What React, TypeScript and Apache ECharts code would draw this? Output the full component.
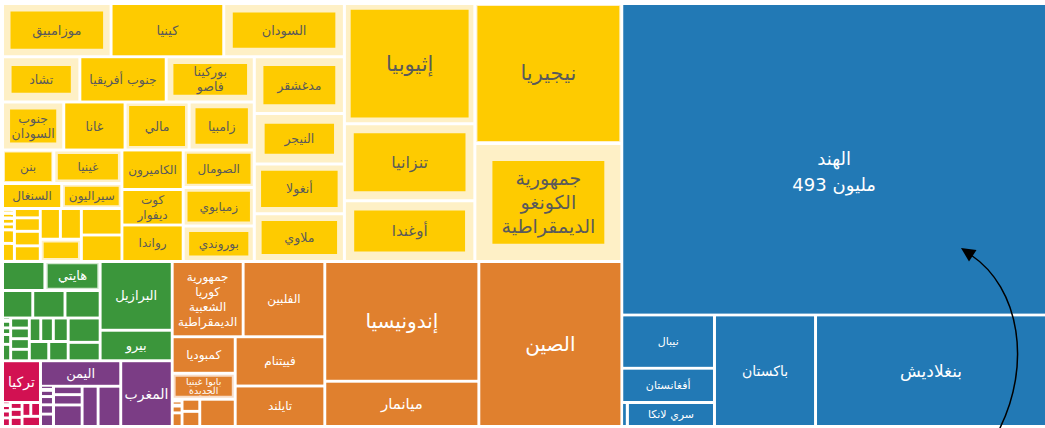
import React, { useEffect, useRef } from 'react';
import * as echarts from 'echarts';

// [name, value in millions, share drawn as the darker inner block]
type Item = [string, number, number?];

// ---------------- DATA ----------------
const unitLabel = 'مليون';

// South Asia
const saIndia: Item[] = [['الهند', 493]];
const saNepalAfghanistan: Item[] = [['نيبال', 18.4], ['أفغانستان', 11.8]];
const saSriLankaRow: Item[] = [['', 0.5], ['سري لانكا', 7.8]];
const saPakistanBangladesh: Item[] = [['باكستان', 42], ['بنغلاديش', 96]];

// Sub-Saharan Africa
const ssaTopRow: Item[] = [['موزامبيق', 21.6, 0.65], ['كينيا', 22.4, 1], ['السودان', 24, 0.61]];
const ssaRow1: Item[] = [['تشاد', 13, 0.51], ['جنوب أفريقيا', 14.5, 1], ['بوركينا\nفاصو', 14.8, 0.63]];
const ssaRow2: Item[] = [['جنوب\nالسودان', 11, 0.58], ['غانا', 11, 1], ['مالي', 11.5, 0.81], ['زامبيا', 11.7, 0.66]];
const ssaBeninGuinea: Item[] = [['بنن', 6.4, 0.9], ['غينيا', 8.5, 0.77]];
const ssaSenegalSierraLeone: Item[] = [['السنغال', 5.5, 1], ['سيراليون', 5.6, 0.79]];
const ssaSmallLeft: Item[] = [['', 2.3], ['', 3.4, 0.74], ['', 1.3], ['', 1.4], ['', 2.4], ['', 0.6], ['', 0.9], ['', 1.5], ['', 0.25], ['', 0.25], ['', 0.8], ['', 0.2], ['', 0.15], ['', 0.1]];
const ssaSmallRight: Item[] = [['', 4.0], ['', 4.0]];
const ssaCameroonCol: Item[] = [['الكاميرون', 9, 1], ['كوت\nديفوار', 8.1, 1], ['رواندا', 8.3, 1]];
const ssaSomaliaCol: Item[] = [['الصومال', 9.9, 0.81], ['زمبابوي', 10.2, 0.77], ['بوروندي', 9.4, 0.63]];
const ssaMadagascarCol: Item[] = [['مدغشقر', 19, 0.59], ['النيجر', 17, 0.5], ['أنغولا', 16.7, 0.68], ['ملاوي', 16, 0.64]];
const ssaEthiopiaCol: Item[] = [['إثيوبيا', 58.5, 0.85], ['تنزانيا', 37.4, 0.69], ['أوغندا', 29.5, 0.62]];
const ssaNigeriaCol: Item[] = [['نيجيريا', 76.7, 0.97], ['جمهورية\nالكونغو\nالديمقراطية', 64.6, 0.56]];

// East Asia & Pacific
const eapKoreaPhilippines: Item[] = [['جمهورية\nكوريا\nالشعبية\nالديمقراطية', 19.9], ['الفلبين', 22.9]];
const eapCambodiaPng: Item[] = [['كمبوديا', 8.6], ['بابوا غينيا\nالجديدة', 6.1, 0.78]];
const eapSmall: Item[] = [['', 3.6], ['', 1.0], ['', 0.8], ['', 0.5], ['', 0.25], ['', 0.15], ['', 0.1]];
const eapVietnamThailand: Item[] = [['فييتنام', 16.5], ['تايلند', 13.5]];
const eapIndonesiaMyanmar: Item[] = [['إندونيسيا', 68.8], ['ميانمار', 26]];
const eapChina: Item[] = [['الصين', 88]];

// Latin America & Caribbean
const lacRowA: Item[] = [['', 4.6], ['هايتي', 6.0, 0.85]];
const lacRowB: Item[] = [['', 3.1], ['', 3.3], ['', 3.6]];
const lacSmallLeft: Item[] = [['', 1.3], ['', 1.4], ['', 1.4], ['', 0.74], ['', 0.74], ['', 0.8], ['', 1.1], ['', 0.5], ['', 0.7], ['', 1.0], ['', 0.3], ['', 0.2], ['', 0.2], ['', 0.1]];
const lacSmallRight: Item[] = [['', 2.9], ['', 2.2]];
const lacBrazilPeru: Item[] = [['البرازيل', 18.5], ['بيرو', 8.2]];

// Middle East & North Africa
const menaYemen: Item[] = [['اليمن', 7.6]];
const menaSmall: Item[] = [['', 3.4], ['', 2.4], ['', 2.3], ['', 1.1], ['', 0.9], ['', 0.6], ['', 0.45], ['', 0.4], ['', 0.3], ['', 0.2]];
const menaMorocco: Item[] = [['المغرب', 12.6]];

// Europe & Central Asia
const ecaTurkey: Item[] = [['تركيا', 5.9]];
const ecaSmall: Item[] = [['', 0.7], ['', 0.5], ['', 0.45], ['', 0.4], ['', 0.35], ['', 0.3], ['', 0.25], ['', 0.2], ['', 0.15], ['', 0.1]];

// ---------------- STYLES ----------------
const FONT = '"DejaVu Sans", "Noto Sans", sans-serif';
const GAP = 3;
const REGION: Record<string, { color: string; light: string; text: string }> = {
  sa: { color: '#2279b5', light: '#9cc3e0', text: '#ffffff' },
  ssa: { color: '#fecb00', light: '#fef0c6', text: '#5a5a5a' },
  eap: { color: '#e0802e', light: '#f8dcc6', text: '#ffffff' },
  lac: { color: '#3b963b', light: '#d3e9d0', text: '#ffffff' },
  mena: { color: '#7b3d85', light: '#e2cfe5', text: '#ffffff' },
  eca: { color: '#d21152', light: '#f5c8d6', text: '#ffffff' },
};

// ---------------- LAYOUT STRUCTURE ----------------
type Mode = 'h' | 'v' | 'blob';
type Leaf = {
  kind: 'leaf'; dir: Mode; items: Item[]; region: string; fs: number[]; lh: number[];
  withValue?: boolean; labelOffset?: number[];
};
type Block = { kind: 'block'; dir: 'h' | 'v'; kids: Node[] };
type Node = Leaf | Block;

const S = (
  dir: Mode, items: Item[], region: string, fs: number | number[] = 12,
  opts: { withValue?: boolean; lh?: number | number[]; labelOffset?: number[] } = {},
): Leaf => {
  const fsArr = items.map((_, i) => (Array.isArray(fs) ? fs[i] : fs));
  const lhArr = items.map((_, i) =>
    opts.lh === undefined ? Math.round(fsArr[i] * 1.22) : Array.isArray(opts.lh) ? opts.lh[i] : opts.lh);
  return { kind: 'leaf', dir, items, region, fs: fsArr, lh: lhArr, withValue: opts.withValue, labelOffset: opts.labelOffset };
};
const H = (...kids: Node[]): Block => ({ kind: 'block', dir: 'h', kids });
const V = (...kids: Node[]): Block => ({ kind: 'block', dir: 'v', kids });

const tree: Node = H(
  V(
    H(
      V(
        S('h', ssaTopRow, 'ssa', 13),
        H(
          V(
            S('h', ssaRow1, 'ssa', 12.5),
            S('h', ssaRow2, 'ssa', 12.5),
            H(
              V(
                S('h', ssaBeninGuinea, 'ssa', 12),
                S('h', ssaSenegalSierraLeone, 'ssa', 12),
                H(S('blob', ssaSmallLeft, 'ssa'), S('v', ssaSmallRight, 'ssa')),
              ),
              S('v', ssaCameroonCol, 'ssa', 12),
              S('v', ssaSomaliaCol, 'ssa', 12),
            ),
          ),
          S('v', ssaMadagascarCol, 'ssa', 12.5),
        ),
      ),
      S('v', ssaEthiopiaCol, 'ssa', [21, 16, 15]),
      S('v', ssaNigeriaCol, 'ssa', [21, 19], { lh: [26, 24] }),
    ),
    H(
      V(
        H(
          V(
            S('h', lacRowA, 'lac', 13),
            S('h', lacRowB, 'lac', 13),
            H(S('blob', lacSmallLeft, 'lac'), S('v', lacSmallRight, 'lac')),
          ),
          S('v', lacBrazilPeru, 'lac', 13),
        ),
        H(
          V(S('v', ecaTurkey, 'eca', 14), S('blob', ecaSmall, 'eca')),
          H(V(S('v', menaYemen, 'mena', 13), S('blob', menaSmall, 'mena')), S('v', menaMorocco, 'mena', 14)),
        ),
      ),
      H(
        V(
          S('h', eapKoreaPhilippines, 'eap', 12),
          H(
            V(S('v', eapCambodiaPng, 'eap', [12, 9.5], { lh: [15, 9] }), S('blob', eapSmall, 'eap')),
            S('v', eapVietnamThailand, 'eap', 12),
          ),
        ),
        S('v', eapIndonesiaMyanmar, 'eap', [20, 15]),
        S('v', eapChina, 'eap', 20),
      ),
    ),
  ),
  V(
    S('v', saIndia, 'sa', 18, { withValue: true, lh: 26, labelOffset: [0, 12] }),
    H(
      V(S('v', saNepalAfghanistan, 'sa', 11), S('h', saSriLankaRow, 'sa', 11)),
      S('h', saPakistanBangladesh, 'sa', [14, 17]),
    ),
  ),
);

const total = (n: Node): number =>
  n.kind === 'leaf' ? n.items.reduce((s, it) => s + it[1], 0) : n.kids.reduce((s, k) => s + total(k), 0);

type Placed = { leaf: Leaf; x: number; y: number; w: number; h: number };

function place(n: Node, x: number, y: number, w: number, h: number, out: Placed[]) {
  if (n.kind === 'leaf') {
    if (n.dir === 'blob' || n.items.length <= 2) {
      out.push({ leaf: n, x, y, w, h });
      return;
    }
    const kids: Leaf[] = [];
    for (let i = 0; i < n.items.length; i += 2) {
      kids.push({ ...n, items: n.items.slice(i, i + 2), fs: n.fs.slice(i, i + 2), lh: n.lh.slice(i, i + 2) });
    }
    place({ kind: 'block', dir: n.dir as 'h' | 'v', kids }, x, y, w, h, out);
    return;
  }
  const T = total(n);
  let off = 0;
  for (const k of n.kids) {
    const t = total(k);
    if (n.dir === 'h') {
      const kw = (w * t) / T;
      place(k, x + off, y, kw, h, out);
      off += kw;
    } else {
      const kh = (h * t) / T;
      place(k, x, y + off, w, kh, out);
      off += kh;
    }
  }
}

function innerMargin(cw: number, ch: number, s: number) {
  if (s >= 0.999 || cw <= 0 || ch <= 0) return 0;
  const a = cw + ch;
  const disc = a * a - 4 * (1 - s) * cw * ch;
  return Math.max(0, (a - Math.sqrt(Math.max(disc, 0))) / 4);
}

function buildOption() {
  const placed: Placed[] = [];
  place(tree, 2.5, 3.5, 1044, 423, placed);
  const half = GAP / 2;

  const series = placed.map((p) => {
    const leaf = p.leaf;
    const reg = REGION[leaf.region];
    const sum = leaf.items.reduce((s, it) => s + it[1], 0);
    // the series box is inset by half a gap so that neighbouring series keep a full gap
    const sx = p.x + half;
    const sy = p.y + half;
    const sw = Math.max(p.w - GAP, 0.5);
    const sh = Math.max(p.h - GAP, 0.5);
    const data = leaf.items.map((it, i) => {
      const [name, value, share] = it;
      let cw: number;
      let ch: number;
      if (leaf.dir === 'blob') {
        const side = Math.sqrt((p.w * p.h * value) / sum);
        cw = side - GAP;
        ch = side - GAP;
      } else if (leaf.dir === 'v') {
        cw = p.w - GAP;
        ch = (p.h * value) / sum - GAP;
      } else {
        cw = (p.w * value) / sum - GAP;
        ch = p.h - GAP;
      }
      const m = innerMargin(cw, ch, share ?? 1);
      const fs = leaf.fs[i] ?? 12;
      const label: any = { show: name !== '', fontSize: fs, lineHeight: leaf.lh[i], color: reg.text };
      if (leaf.labelOffset) label.offset = leaf.labelOffset;
      return {
        name,
        value,
        withValue: leaf.withValue,
        itemStyle: { color: reg.color, borderColor: reg.light, borderWidth: m },
        label,
      };
    });
    let squareRatio = 1.618;
    let sort: any = false;
    if (leaf.dir === 'v') squareRatio = sw < sh ? 0.01 : 100;
    else if (leaf.dir === 'h') squareRatio = sw > sh ? 0.01 : 100;
    else sort = 'asc';
    return {
      type: 'treemap',
      left: sx,
      top: sy,
      width: sw,
      height: sh,
      squareRatio,
      sort,
      roam: false,
      nodeClick: false,
      silent: true,
      visibleMin: 0,
      breadcrumb: { show: false },
      itemStyle: { borderWidth: 0, gapWidth: GAP, borderColor: '#ffffff' },
      upperLabel: { show: false },
      label: {
        show: true,
        position: 'inside',
        align: 'center',
        verticalAlign: 'middle',
        overflow: 'none',
        padding: 0,
        fontFamily: FONT,
        formatter: (prm: any) =>
          prm.data && prm.data.withValue ? `${prm.name}\n\u200E${prm.value} ${unitLabel}` : prm.name,
      },
      data,
    };
  });

  return {
    animation: false,
    backgroundColor: '#ffffff',
    tooltip: { show: false },
    series,
    graphic: [
      {
        type: 'bezierCurve',
        z: 100,
        silent: true,
        shape: { x1: 999, y1: 430, cpx1: 1032, cpy1: 365, cpx2: 1020, cpy2: 288, x2: 971, y2: 255 },
        style: { stroke: '#000000', lineWidth: 1.5, fill: null },
      },
      {
        type: 'polygon',
        z: 100,
        silent: true,
        shape: { points: [[961, 248], [976.5, 250], [969, 261.5]] },
        style: { fill: '#000000' },
      },
    ],
  };
}

export default function App() {
  const ref = useRef<HTMLDivElement>(null);
  useEffect(() => {
    if (!ref.current) return;
    const chart = echarts.init(ref.current, null, { renderer: 'svg' });
    chart.setOption(buildOption() as any);
    return () => chart.dispose();
  }, []);
  return (
    <div
      ref={ref}
      style={{ position: 'absolute', left: 0, top: 0, width: 1045, height: 428, background: '#ffffff' }}
    />
  );
}
